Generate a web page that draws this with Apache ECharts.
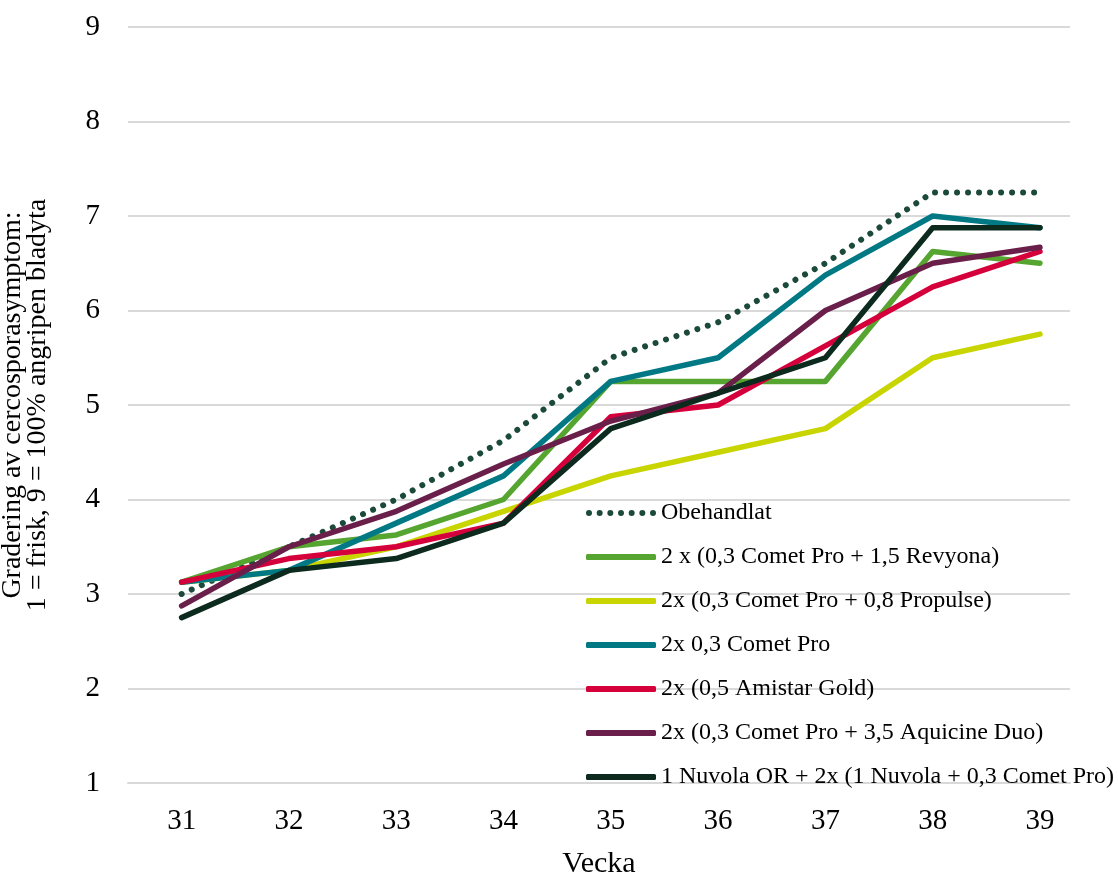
<!DOCTYPE html>
<html>
<head>
<meta charset="utf-8">
<script src="https://cdn.jsdelivr.net/npm/echarts@6/dist/echarts.min.js"></script>
<style>
  html, body { margin: 0; padding: 0; background: #fff; }
  #main { width: 1118px; height: 877px; }
</style>
</head>
<body>
<div id="main"></div>
<script>
var weeks = [31, 32, 33, 34, 35, 36, 37, 38, 39];
var yTicks = [1, 2, 3, 4, 5, 6, 7, 8, 9];

var obehandlat = [3.0, 3.5, 4.0, 4.625, 5.5, 5.875, 6.5, 7.25, 7.25];
var revyona    = [3.125, 3.5, 3.625, 4.0, 5.25, 5.25, 5.25, 6.625, 6.5];
var propulse   = [3.125, 3.25, 3.5, 3.875, 4.25, 4.5, 4.75, 5.5, 5.75];
var cometPro   = [3.125, 3.25, 3.75, 4.25, 5.25, 5.5, 6.375, 7.0, 6.875];
var amistar    = [3.125, 3.375, 3.5, 3.75, 4.875, 5.0, 5.625, 6.25, 6.625];
var aquicine   = [2.875, 3.5, 3.875, 4.375, 4.83, 5.125, 6.0, 6.5, 6.67];
var nuvola     = [2.75, 3.25, 3.375, 3.75, 4.75, 5.125, 5.5, 6.875, 6.875];

var names = [
  'Obehandlat',
  '2 x (0,3 Comet Pro + 1,5 Revyona)',
  '2x (0,3 Comet Pro + 0,8 Propulse)',
  '2x 0,3 Comet Pro',
  '2x (0,5 Amistar Gold)',
  '2x (0,3 Comet Pro + 3,5 Aquicine Duo)',
  '1 Nuvola OR + 2x (1 Nuvola + 0,3 Comet Pro)'
];
var values = [obehandlat, revyona, propulse, cometPro, amistar, aquicine, nuvola];
var colors = ['#1b4a3a', '#55a530', '#c8d500', '#007985', '#d5003b', '#6a1f4a', '#0c2a1e'];

function pairs(arr) {
  return weeks.map(function (w, i) { return [w, arr[i]]; });
}

// dotted legend icon: a row of small circles
var dots = 'path://';
for (var d = 0; d < 7; d++) {
  var cx = d * 10.67;
  dots += 'M' + cx + ',3a3,3 0 1,0 6,0a3,3 0 1,0 -6,0';
}

var chart = echarts.init(document.getElementById('main'));
var font = 'Liberation Serif';

var series = names.map(function (n, i) {
  var dotted = i === 0;
  return {
    name: n,
    type: 'line',
    data: pairs(values[i]),
    showSymbol: false,
    symbol: 'none',
    color: colors[i],
    lineStyle: {
      width: dotted ? 6 : 5.5,
      color: colors[i],
      type: dotted ? [0.01, 11] : 'solid',
      cap: 'round',
      join: 'round'
    }
  };
});

chart.setOption({
  animation: false,
  textStyle: { fontFamily: font },
  grid: { left: 128, right: 48, top: 27, bottom: 94, outerBoundsMode: 'none' },
  legend: {
    orient: 'vertical',
    left: 581,
    top: 496,
    itemWidth: 70,
    itemHeight: 6,
    itemGap: 20,
    data: names.map(function (n, i) {
      return { name: n, icon: i === 0 ? dots : 'roundRect' };
    }),
    textStyle: { fontFamily: font, fontSize: 24, color: '#000' }
  },
  xAxis: {
    type: 'value',
    min: 30.5,
    max: 39.28,
    name: 'Vecka',
    nameLocation: 'middle',
    nameGap: 66,
    nameTextStyle: { fontFamily: font, fontSize: 30, color: '#000' },
    axisLine: { show: true, lineStyle: { color: '#d9d9d9', width: 2 } },
    axisTick: { show: false },
    splitLine: { show: false },
    axisLabel: {
      customValues: weeks,
      fontFamily: font,
      fontSize: 29,
      color: '#000',
      margin: 24
    }
  },
  yAxis: {
    type: 'value',
    min: 1,
    max: 9,
    interval: 1,
    name: 'Gradering av cercosporasymptom:\n1 = frisk, 9 = 100% angripen bladyta',
    nameLocation: 'middle',
    nameGap: 78,
    nameTextStyle: { fontFamily: font, fontSize: 28, color: '#000', lineHeight: 25 },
    axisLine: { show: false },
    axisTick: { show: false },
    splitLine: { show: true, lineStyle: { color: '#d9d9d9', width: 2 } },
    axisLabel: {
      customValues: yTicks,
      fontFamily: font,
      fontSize: 29,
      color: '#000',
      margin: 28
    }
  },
  series: series
});
</script>
</body>
</html>
